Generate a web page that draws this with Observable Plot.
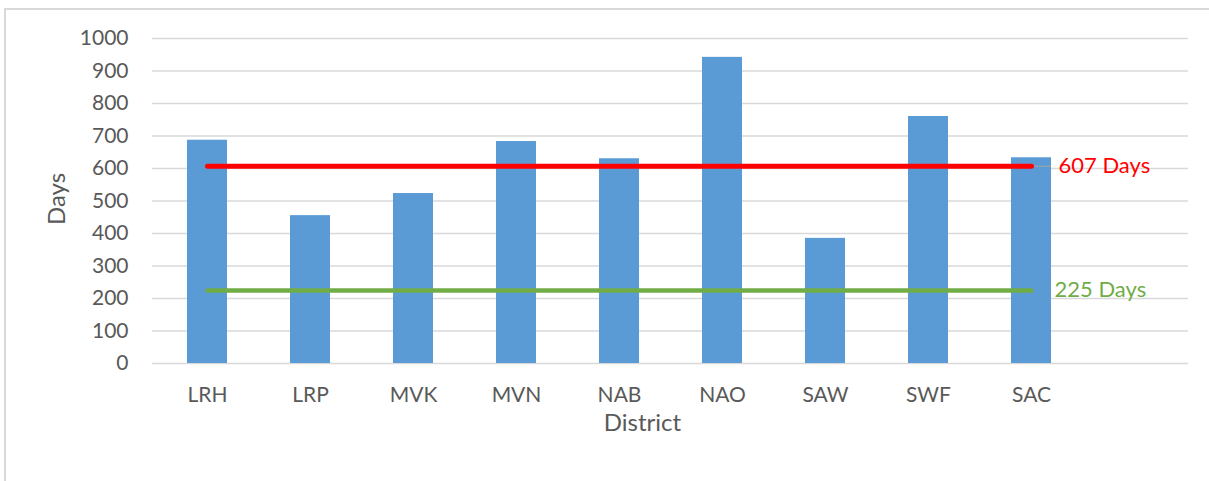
<!DOCTYPE html>
<html><head><meta charset="utf-8">
<script src="https://cdn.jsdelivr.net/npm/d3@7"></script>
<script src="https://cdn.jsdelivr.net/npm/@observablehq/plot@0.6"></script>
<style>
body{margin:0;background:#fff;}
#wrap{position:relative;width:1209px;height:481px;overflow:hidden;}
#border{position:absolute;left:4px;top:8px;right:-10px;bottom:-10px;border-left:2px solid #d9d9d9;border-top:2px solid #d9d9d9;pointer-events:none;}
#wrap svg{position:absolute;left:0;top:0;}
</style></head><body>
<div id="wrap"><div id="border"></div></div>
<script>
const districts = ["LRH","LRP","MVK","MVN","NAB","NAO","SAW","SWF","SAC"];
const days = [687,455,523,683,630,942,385,760,633];
const spareSlot = " ";
const yTicks = [0,100,200,300,400,500,600,700,800,900,1000];
const targetHigh = 607;
const targetLow = 225;
const targetHighLabel = "607 Days";
const targetLowLabel = "225 Days";
const yLabel = "Days";
const xLabel = "District";

const data = districts.map((d, i) => ({district: d, days: days[i]}));
const lastDistrict = districts[districts.length - 1];

const RED = "#FF0000", GREEN = "#70AD47", BLUE = "#5B9BD5", TEXT = "#595959";

const chart = Plot.plot({
  width: 1209,
  height: 481,
  marginLeft: 152,
  marginRight: 21,
  marginTop: 38,
  marginBottom: 118,
  style: {fontFamily: "Lato, 'Open Sans', sans-serif", fontSize: "21px", color: TEXT, background: "transparent"},
  x: {domain: [...districts, spareSlot], paddingInner: 0.614, paddingOuter: 0.307, tickSize: 0, tickPadding: 24, label: null},
  y: {domain: [0, 1000], ticks: yTicks, tickFormat: d => String(d), tickSize: 0, tickPadding: 24, label: null},
  marks: [
    Plot.ruleY(yTicks, {stroke: "#d9d9d9", strokeWidth: 1.5}),
    Plot.barY(data, {x: "district", y: "days", fill: BLUE}),
    Plot.tickY([targetHigh], {x: () => lastDistrict, y: d => d, stroke: "#a6a6a6", strokeWidth: 1}),
    Plot.lineY(districts, {x: d => d, y: () => targetHigh, stroke: RED, strokeWidth: 5, strokeLinecap: "round"}),
    Plot.lineY(districts, {x: d => d, y: () => targetLow, stroke: GREEN, strokeWidth: 4.5, strokeLinecap: "round"}),
    Plot.text([targetHigh], {x: () => lastDistrict, y: d => d, text: () => targetHighLabel, dx: 27, textAnchor: "start", fill: RED, fontSize: 22}),
    Plot.text([targetLow], {x: () => lastDistrict, y: d => d, text: () => targetLowLabel, dx: 23, textAnchor: "start", fill: GREEN, fontSize: 22}),
    Plot.text([yLabel], {frameAnchor: "left", dx: -95, dy: -2, rotate: -90, textAnchor: "middle", lineAnchor: "middle", fill: TEXT, fontSize: 24}),
    Plot.text([xLabel], {frameAnchor: "bottom", dx: -28, dy: 60, textAnchor: "middle", lineAnchor: "middle", fill: TEXT, fontSize: 24})
  ]
});
document.getElementById("wrap").appendChild(chart);
</script>
</body></html>
